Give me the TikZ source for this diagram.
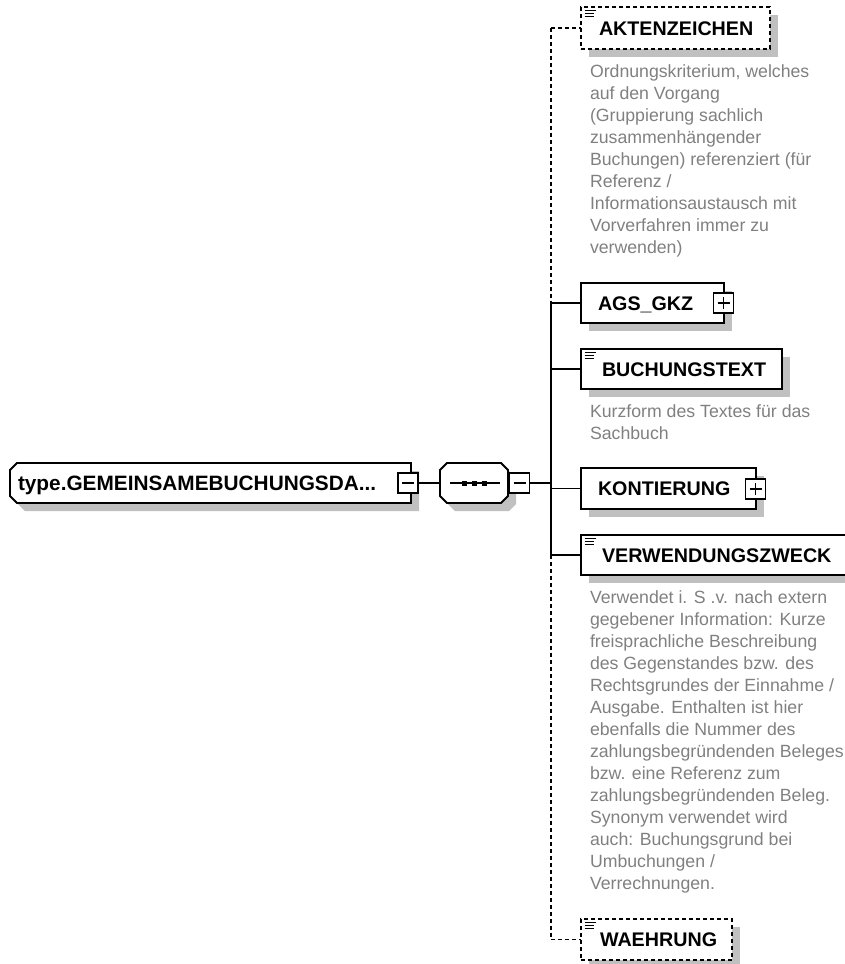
\documentclass[tikz,border=0pt]{standalone}
\usepackage{fontspec}
\setmainfont{Liberation Sans}
\usetikzlibrary{shadows}
\definecolor{shd}{RGB}{192,192,192}
\definecolor{desc}{RGB}{128,128,128}
\newcommand\pmminus[1]{\draw[line width=1.4pt] ([xshift=4pt]#1.west) -- ([xshift=-4pt]#1.east);}
\newcommand\pmplus[1]{\pmminus{#1}\draw[line width=1.4pt] ([yshift=-4pt]#1.north) -- ([yshift=4pt]#1.south);}
\newcommand\docicon[1]{%
  \draw[line width=1.3pt] ([xshift=3.5pt,yshift=-3.5pt]#1.north west) -- +(11,0);
  \draw[line width=1.3pt] ([xshift=3.5pt,yshift=-6.5pt]#1.north west) -- +(9,0);
  \draw[line width=1.3pt] ([xshift=3.5pt,yshift=-9.5pt]#1.north west) -- +(9,0);}
\begin{document}
\begin{tikzpicture}[x=1pt,y=-1pt,
  every node/.style={inner sep=0pt, outer sep=0pt},
  lw/.style={line width=1.9pt},
  dsh/.style={dash pattern=on 4pt off 3pt},
  shad/.style={drop shadow={shadow xshift=8pt,shadow yshift=-8pt,fill=shd,opacity=1}},
  elem/.style={draw, lw, fill=white, shad, anchor=north west, rectangle},
  opt/.style={elem, dsh},
  pm/.style={draw, line width=1.5pt, fill=white, minimum size=20pt, rectangle},
  nm/.style={anchor=base west, font=\bfseries\fontsize{19.7}{22}\selectfont},
  dsc/.style={anchor=north west, align=left, text=desc, font=\fontsize{17.7}{22}\selectfont},
]
\useasboundingbox (0,0) rectangle (845,964);
\clip (0,0) rectangle (845,964);

% root (shape with cut left corners)
\node[anchor=north west, minimum width=401pt, minimum height=40pt] (root) at (10,463) {};
\fill[shd, shift={(8,8)}] (17,463) -- (411,463) -- (411,503) -- (17,503) -- (10,496) -- (10,470) -- cycle;
\draw[lw, fill=white] (17,463) -- (411,463) -- (411,503) -- (17,503) -- (10,496) -- (10,470) -- cycle;
\node[nm, font=\bfseries\fontsize{20.8}{22}\selectfont] (roott) at (18,490.5) {type.GEMEINSAMEBUCHUNGSDA...};
\node[pm] (rootpm) at (408,483) {};
\pmminus{rootpm}

% sequence compositor (octagon)
\node[anchor=north west, minimum width=68pt, minimum height=40pt] (seq) at (440,463) {};
\fill[shd, shift={(8,8)}] (447,463) -- (501,463) -- (508,470) -- (508,496) -- (501,503) -- (447,503) -- (440,496) -- (440,470) -- cycle;
\draw[lw, fill=white] (447,463) -- (501,463) -- (508,470) -- (508,496) -- (501,503) -- (447,503) -- (440,496) -- (440,470) -- cycle;
\draw[line width=1.4pt] ([xshift=10pt]seq.west) -- ([xshift=-8pt]seq.east);
\fill ([xshift=-12.5pt,yshift=2.5pt]seq.center) rectangle +(5,5);
\fill ([xshift=-2.5pt,yshift=2.5pt]seq.center) rectangle +(5,5);
\fill ([xshift=7.5pt,yshift=2.5pt]seq.center) rectangle +(5,5);
\node[pm] (seqpm) at (519.5,483) {};
\pmminus{seqpm}

\draw[lw] (rootpm.east) -- (seq.west);
\coordinate (bj) at (551,483);
\draw[lw] (seqpm.east) -- (bj);

% bar
\coordinate (b1) at (551,28);
\coordinate (b2) at (551,303);
\coordinate (b3) at (551,555);
\coordinate (b4) at (551,939.5);
\draw[lw,dsh] (b1) -- (b2);
\draw[lw] (b2) -- (b3);
\draw[lw,dsh] (b3) -- (b4);

% children
\node[opt, minimum width=189pt, minimum height=42pt] (akt) at (581,7) {};
\docicon{akt}
\node[nm] (aktt) at (599,35) {AKTENZEICHEN};
\node[dsc] (aktd) at (590,65) {Ordnungskriterium, welches\\auf den Vorgang\\(Gruppierung sachlich\\zusammenhängender\\Buchungen) referenziert (für\\Referenz /\\Informationsaustausch mit\\Vorverfahren immer zu\\verwenden)};

\node[elem, minimum width=143pt, minimum height=40pt] (ags) at (581,283) {};
\node[nm] (agst) at (598,310) {AGS\_GKZ};
\node[pm] (agspm) at (723.5,303) {};
\pmplus{agspm}

\node[elem, minimum width=201pt, minimum height=40pt] (buch) at (581,349) {};
\docicon{buch}
\node[nm] (bucht) at (602,376) {BUCHUNGSTEXT};
\node[dsc] (buchd) at (590,405) {Kurzform des Textes für das\\Sachbuch};

\node[elem, minimum width=175pt, minimum height=41pt] (kont) at (581,468) {};
\node[nm] (kontt) at (598,495.5) {KONTIERUNG};
\node[pm] (kontpm) at (755.5,489) {};
\pmplus{kontpm}

\node[elem, minimum width=280pt, minimum height=40pt] (verw) at (581,535) {};
\docicon{verw}
\node[nm] (verwt) at (602,562) {VERWENDUNGSZWECK};
\node[dsc] (verwd) at (590,591) {Verwendet i. S .v. nach extern\\gegebener Information: Kurze\\freisprachliche Beschreibung\\des Gegenstandes bzw. des\\Rechtsgrundes der Einnahme /\\Ausgabe. Enthalten ist hier\\ebenfalls die Nummer des\\zahlungsbegründenden Beleges\\bzw. eine Referenz zum\\zahlungsbegründenden Beleg.\\Synonym verwendet wird\\auch: Buchungsgrund bei\\Umbuchungen /\\Verrechnungen.};

\node[opt, minimum width=151pt, minimum height=41pt] (waeh) at (581,919) {};
\docicon{waeh}
\node[nm] (waeht) at (600,946.5) {WAEHRUNG};

% connectors from bar
\draw[lw,dsh] (b1) -- (b1 -| akt.west);
\draw[lw] (b2) -- (b2 -| ags.west);
\draw[lw] (b2 |- buch.west) -- (buch.west);
\draw[lw] (b2 |- kont.west) -- (kont.west);
\draw[lw] (b3) -- (b3 -| verw.west);
\draw[lw,dsh] (b4) -- (b4 -| waeh.west);
\end{tikzpicture}
\end{document}
